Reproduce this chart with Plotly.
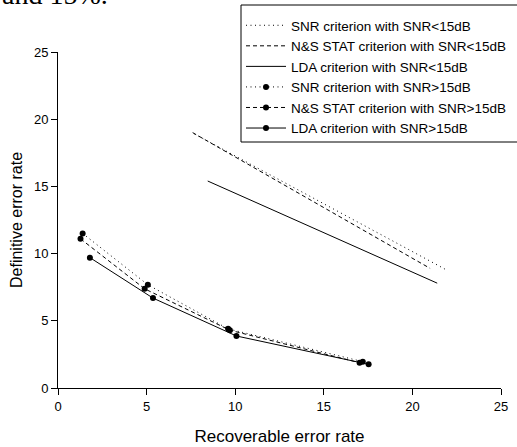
import plotly.graph_objects as go

# SNR < 15 dB (no markers)
snr_lo_x = [7.7, 21.9]
snr_lo_y = [18.9, 8.8]
ns_lo_x = [7.6, 21.0]
ns_lo_y = [19.0, 8.9]
lda_lo_x = [8.45, 21.4]
lda_lo_y = [15.4, 7.8]

# SNR > 15 dB (with markers)
snr_hi_x = [1.39, 5.07, 9.6, 17.2]
snr_hi_y = [11.5, 7.68, 4.4, 1.96]
ns_hi_x = [1.27, 4.89, 9.7, 17.02]
ns_hi_y = [11.1, 7.38, 4.3, 1.88]
lda_hi_x = [1.8, 5.36, 10.07, 17.53]
lda_hi_y = [9.7, 6.69, 3.87, 1.76]

names = [
    "SNR criterion with SNR<15dB",
    "N&S STAT criterion with SNR<15dB",
    "LDA criterion with SNR<15dB",
    "SNR criterion with SNR>15dB",
    "N&S STAT criterion with SNR>15dB",
    "LDA criterion with SNR>15dB",
]

x_ticks = [0, 5, 10, 15, 20, 25]
y_ticks = [0, 5, 10, 15, 20, 25]

FONT = "Liberation Sans, Arial, sans-serif"
DOT = "1px,3.5px"
DASH = "4px,3px"

fig = go.Figure()
series = [
    (snr_lo_x, snr_lo_y, DOT, False),
    (ns_lo_x, ns_lo_y, DASH, False),
    (lda_lo_x, lda_lo_y, "solid", False),
    (snr_hi_x, snr_hi_y, DOT, True),
    (ns_hi_x, ns_hi_y, DASH, True),
    (lda_hi_x, lda_hi_y, "solid", True),
]
for (xs, ys, dash, mk), nm in zip(series, names):
    fig.add_trace(go.Scatter(
        x=xs, y=ys, name=nm,
        mode="lines+markers" if mk else "lines",
        line=dict(color="black", width=1, dash=dash),
        marker=dict(color="black", size=6, symbol="circle"),
    ))

axis_common = dict(
    showgrid=False, zeroline=False, showline=True, linecolor="black",
    linewidth=1, ticks="outside", ticklen=6, tickcolor="black",
    tickfont=dict(family=FONT, size=13, color="black"),
)
fig.update_xaxes(range=[0, 25], tickvals=x_ticks,
                 title=dict(text="Recoverable error rate",
                            font=dict(family=FONT, size=17, color="black"),
                            standoff=17),
                 **axis_common)
fig.update_yaxes(range=[0, 25], tickvals=y_ticks,
                 title=dict(text="Definitive error rate",
                            font=dict(family=FONT, size=16, color="black"),
                            standoff=7),
                 **axis_common)
fig.update_xaxes(automargin=False)
fig.update_yaxes(automargin=False)

PW, PH, L0, B0 = 443, 336, 58, 388  # plot-area px helpers for paper coords

def px_x(p):
    return (p - L0) / PW

def px_y(p):
    return (B0 - p) / PH

fig.add_annotation(text="and 15%.", xref="paper", yref="paper",
                   x=px_x(0), y=px_y(12), xanchor="left", yanchor="bottom",
                   showarrow=False,
                   font=dict(family="Liberation Serif, Times New Roman, serif",
                             size=28, color="black"))

# legend frame
fig.add_shape(type="rect", xref="paper", yref="paper",
              x0=px_x(241), x1=px_x(530), y0=px_y(142), y1=px_y(5),
              line=dict(color="black", width=1), fillcolor="white", layer="below")

fig.update_layout(
    width=517, height=447,
    margin=dict(l=58, r=16, t=52, b=59, autoexpand=False),
    paper_bgcolor="white", plot_bgcolor="white",
    showlegend=True,
    legend=dict(x=px_x(241), y=px_y(10), xanchor="left", yanchor="top",
                borderwidth=0, bgcolor="rgba(0,0,0,0)",
                font=dict(family=FONT, size=13.5, color="black"),
                itemwidth=40, tracegroupgap=0),
)

fig.write_html("out.html", config={"displayModeBar": False},
               post_script="document.body.style.margin='0px';document.body.style.padding='0px';")
